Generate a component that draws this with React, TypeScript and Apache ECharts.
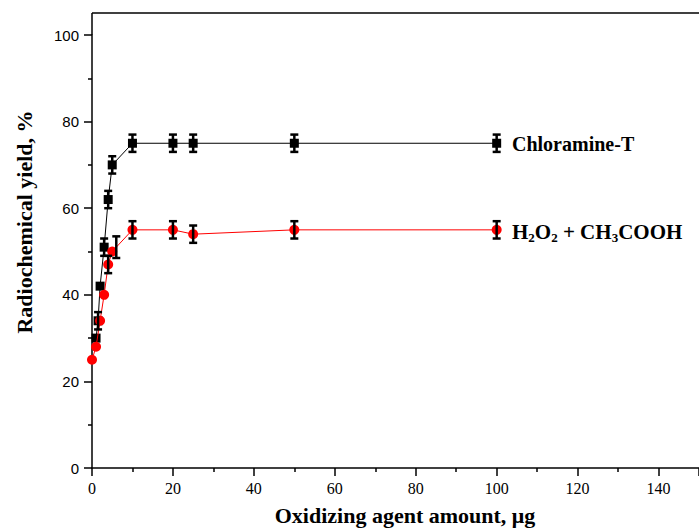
import React, { useEffect, useRef } from "react";
import * as echarts from "echarts";

// Chloramine-T series
const chloramineX = [1, 1.5, 2, 3, 4, 5, 10, 20, 25, 50, 100];
const chloramineY = [30, 34, 42, 51, 62, 70, 75, 75, 75, 75, 75];
const chloramineErr = [0, 2, 0, 2, 2, 2, 2, 2, 2, 2, 2];

// H2O2 + CH3COOH series
const peroxideX = [0, 1, 2, 3, 4, 5, 6, 10, 20, 25, 50, 100];
const peroxideY = [25, 28, 34, 40, 47, 50, 51, 55, 55, 54, 55, 55];
const peroxideErr = [0, 0, 0, 0, 2, 0, 2.5, 2, 2, 2, 2, 2];
const peroxideHiddenMarkerX = [6];

// Axes
const xMin = 0;
const xMax = 150;
const xInterval = 20;
const yMin = 0;
const yMax = 100;
const yInterval = 20;

const xTitle = "Oxidizing agent amount, \u03bcg";
const yTitle = "Radiochemical yield, %";
const chloramineLabel = "Chloramine-T";
const peroxideLabelRich = "{a|H}{s|2}{a|O}{s|2}{a| + CH}{s|3}{a|COOH}";

const SERIF = '"Liberation Serif", "Times New Roman", serif';
const SANS = '"Liberation Sans", Arial, sans-serif';

export default function App() {
  const ref = useRef<HTMLDivElement>(null);

  useEffect(() => {
    if (!ref.current) return;
    const chart = echarts.init(ref.current, undefined, { renderer: "svg" });

    const chlData = chloramineX.map((x, i) => [x, chloramineY[i]]);
    const perData = peroxideX.map((x, i) =>
      peroxideHiddenMarkerX.includes(x)
        ? { value: [x, peroxideY[i]], symbol: "none" }
        : { value: [x, peroxideY[i]] }
    );
    const errData: number[][] = [];
    chloramineX.forEach((x, i) => {
      if (chloramineErr[i] > 0) errData.push([x, chloramineY[i], chloramineErr[i]]);
    });
    peroxideX.forEach((x, i) => {
      if (peroxideErr[i] > 0) errData.push([x, peroxideY[i], peroxideErr[i]]);
    });

    const axisLine = { show: true, lineStyle: { color: "#000", width: 1.5 } };

    const option: any = {
      animation: false,
      backgroundColor: "#fff",
      grid: { left: 92, right: -7, top: 35, bottom: 64, containLabel: false },
      xAxis: {
        type: "value",
        min: xMin,
        max: xMax,
        interval: xInterval,
        splitLine: { show: false },
        axisLine,
        axisTick: { show: true, inside: false, length: 8, lineStyle: { color: "#000", width: 1.5 } },
        minorTick: { show: true, splitNumber: 2, length: 4, lineStyle: { color: "#000", width: 1.5 } },
        axisLabel: {
          color: "#000",
          fontFamily: SERIF,
          fontSize: 16,
          margin: 12,
          showMaxLabel: false,
          formatter: (v: number) => (v > 140 ? "" : String(v)),
        },
      },
      yAxis: {
        type: "value",
        min: yMin,
        max: yMax,
        interval: yInterval,
        splitLine: { show: false },
        axisLine,
        axisTick: { show: true, inside: false, length: 8, lineStyle: { color: "#000", width: 1.5 } },
        minorTick: { show: true, splitNumber: 2, length: 4, lineStyle: { color: "#000", width: 1.5 } },
        axisLabel: { color: "#000", fontFamily: SANS, fontSize: 15, margin: 13 },
      },
      graphic: [
        { type: "line", shape: { x1: 92, y1: 13, x2: 92, y2: 35 }, style: { stroke: "#000", lineWidth: 1.5 } },
        { type: "line", shape: { x1: 92, y1: 13, x2: 699, y2: 13 }, style: { stroke: "#000", lineWidth: 1.5 } },
        {
          type: "text",
          x: 24,
          y: 222,
          rotation: Math.PI / 2,
          style: {
            text: yTitle,
            fontFamily: SERIF,
            fontWeight: "bold",
            fontSize: 22,
            fill: "#000",
            align: "center",
            verticalAlign: "middle",
          },
        },
        {
          type: "text",
          x: 405,
          y: 515,
          style: {
            text: xTitle,
            fontFamily: SERIF,
            fontWeight: "bold",
            fontSize: 22,
            fill: "#000",
            align: "center",
            verticalAlign: "middle",
          },
        },
        {
          type: "text",
          x: 512,
          y: 144,
          style: {
            text: chloramineLabel,
            fontFamily: SERIF,
            fontWeight: "bold",
            fontSize: 20,
            fill: "#000",
            align: "left",
            verticalAlign: "middle",
          },
        },
        {
          type: "text",
          x: 512,
          y: 232,
          style: {
            text: peroxideLabelRich,
            align: "left",
            verticalAlign: "middle",
            rich: {
              a: { fontFamily: SERIF, fontWeight: "bold", fontSize: 21, fill: "#000", color: "#000", lineHeight: 24 },
              s: {
                fontFamily: SERIF,
                fontWeight: "bold",
                fontSize: 13,
                fill: "#000",
                color: "#000",
                lineHeight: 12,
                verticalAlign: "bottom",
              },
            },
          },
        },
      ],
      series: [
        {
          name: "Chloramine-T",
          type: "line",
          data: chlData,
          symbol: "rect",
          symbolSize: 9,
          itemStyle: { color: "#000" },
          lineStyle: { color: "#000", width: 1 },
          z: 2,
        },
        {
          name: "H2O2 + CH3COOH",
          type: "line",
          data: perData,
          symbol: "circle",
          symbolSize: 10,
          itemStyle: { color: "#ff0000" },
          lineStyle: { color: "#ff0000", width: 1 },
          z: 3,
        },
        {
          name: "errors",
          type: "custom",
          data: errData,
          encode: { x: 0, y: 1 },
          z: 4,
          renderItem: (params: any, api: any) => {
            const x = api.value(0);
            const y = api.value(1);
            const e = api.value(2);
            const top = api.coord([x, y + e]);
            const bot = api.coord([x, y - e]);
            const hw = 4;
            const style = { stroke: "#000", lineWidth: 2.5 };
            return {
              type: "group",
              children: [
                { type: "line", shape: { x1: top[0], y1: top[1], x2: bot[0], y2: bot[1] }, style },
                { type: "line", shape: { x1: top[0] - hw, y1: top[1], x2: top[0] + hw, y2: top[1] }, style },
                { type: "line", shape: { x1: bot[0] - hw, y1: bot[1], x2: bot[0] + hw, y2: bot[1] }, style },
              ],
            };
          },
        },
      ],
    };

    chart.setOption(option);
    return () => chart.dispose();
  }, []);

  return (
    <div
      ref={ref}
      style={{ position: "absolute", left: 0, top: 0, width: 699, height: 532, background: "#fff" }}
    />
  );
}
